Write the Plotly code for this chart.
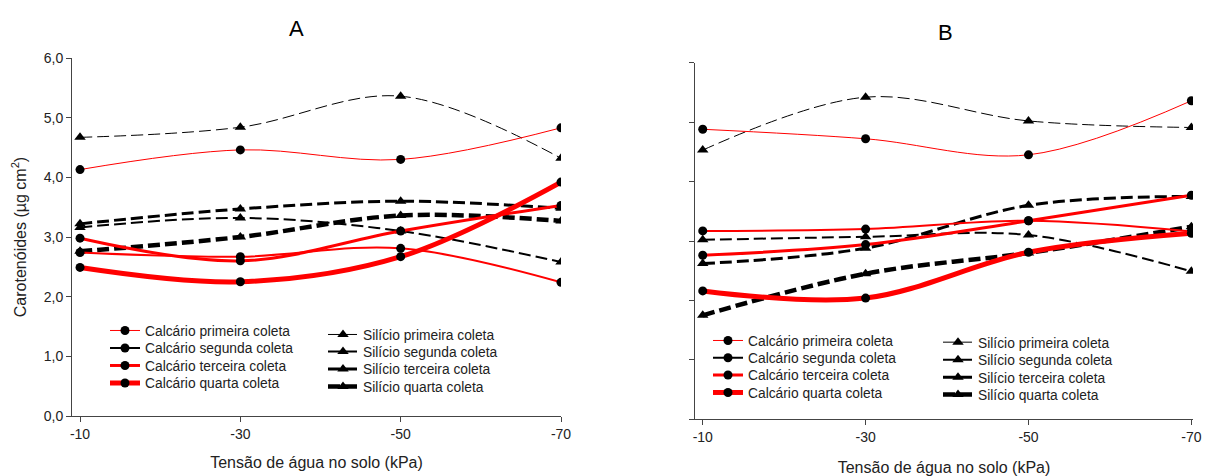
import plotly.graph_objects as go

# ---------------- data ----------------
tensao = [-10, -30, -50, -70]
tensao_labels = ["-10", "-30", "-50", "-70"]
y_ticks = [0, 1, 2, 3, 4, 5, 6]
y_ticklabels = ["0,0", "1,0", "2,0", "3,0", "4,0", "5,0", "6,0"]

series_names = ["primeira", "segunda", "terceira", "quarta"]

# Panel A
A_calc_primeira = [4.13, 4.46, 4.30, 4.83]
A_calc_segunda = [2.74, 2.67, 2.81, 2.24]
A_calc_terceira = [2.98, 2.60, 3.10, 3.53]
A_calc_quarta = [2.49, 2.25, 2.67, 3.92]
A_sil_primeira = [4.67, 4.84, 5.36, 4.32]
A_sil_segunda = [3.16, 3.32, 3.10, 2.58]
A_sil_terceira = [3.22, 3.47, 3.60, 3.48]
A_sil_quarta = [2.76, 3.00, 3.36, 3.27]

# Panel B
B_calc_primeira = [4.88, 4.72, 4.45, 5.36]
B_calc_segunda = [3.17, 3.20, 3.34, 3.16]
B_calc_terceira = [2.76, 2.94, 3.34, 3.77]
B_calc_quarta = [2.16, 2.04, 2.81, 3.13]
B_sil_primeira = [4.53, 5.42, 5.02, 4.91]
B_sil_segunda = [3.02, 3.07, 3.10, 2.49]
B_sil_terceira = [2.62, 2.88, 3.60, 3.75]
B_sil_quarta = [1.75, 2.45, 2.80, 3.24]

# ---------------- styles / layout ----------------
FONT = "Arial, Liberation Sans, sans-serif"
RED = "#FF0000"
calc_widths = [1, 2, 3, 5]
calc_legend_colors = [RED, "black", RED, RED]
sil_widths = [1, 2, 3, 4.5]
DASH = "12px,5px"
W, H = 1206, 476
LEG_FONT = 13.8

# legend entry positions (pixels): left of sample, row centre
A_calc_leg = (110, [330, 347.5, 365, 382.5])
A_sil_leg = (328, [334, 351, 368.5, 386])
B_calc_leg = (713, [340, 357.3, 374.5, 392])
B_sil_leg = (943, [341.7, 359.3, 376.7, 394])

fig = go.Figure()
legend_layout = {}
leg_counter = [0]


def new_legend(px_x, px_y):
    leg_counter[0] += 1
    n = leg_counter[0]
    lid = "legend" if n == 1 else f"legend{n}"
    legend_layout[lid] = dict(
        x=(px_x - 5) / W, y=(H - (px_y - 15)) / H, xanchor="left", yanchor="top",
        bgcolor="rgba(0,0,0,0)", font=dict(family=FONT, size=LEG_FONT, color="#222"),
        itemclick=False, itemdoubleclick=False)
    return lid


def add_panel(calc, sil, xa, ya, calc_leg, sil_leg):
    # Silício (triangles, dashed black)
    for i, (name, vals, w) in enumerate(zip(series_names, sil, sil_widths)):
        lid = new_legend(sil_leg[0], sil_leg[1][i])
        fig.add_trace(go.Scatter(
            x=tensao, y=vals, xaxis=xa, yaxis=ya,
            mode="lines+markers", line=dict(color="black", width=w, dash=DASH, shape="spline"),
            marker=dict(symbol="triangle-up", size=10, color="black"),
            name=f"Silício {name} coleta", legend=lid, showlegend=True,
        ))
    # Calcário (circles, red)
    for i, (name, vals, w) in enumerate(zip(series_names, calc, calc_widths)):
        lid = new_legend(calc_leg[0], calc_leg[1][i])
        same = calc_legend_colors[i] == RED
        fig.add_trace(go.Scatter(
            x=tensao, y=vals, xaxis=xa, yaxis=ya,
            mode="lines+markers", line=dict(color=RED, width=w, shape="spline"),
            marker=dict(symbol="circle", size=9, color="black"),
            name=f"Calcário {name} coleta", legend=lid, showlegend=same,
        ))
        if not same:
            fig.add_trace(go.Scatter(
                x=[None], y=[None], xaxis=xa, yaxis=ya,
                mode="lines+markers", line=dict(color=calc_legend_colors[i], width=w),
                marker=dict(symbol="circle", size=9, color="black"),
                name=f"Calcário {name} coleta", legend=lid, showlegend=True,
            ))


add_panel([A_calc_primeira, A_calc_segunda, A_calc_terceira, A_calc_quarta],
          [A_sil_primeira, A_sil_segunda, A_sil_terceira, A_sil_quarta],
          "x", "y", A_calc_leg, A_sil_leg)
add_panel([B_calc_primeira, B_calc_segunda, B_calc_terceira, B_calc_quarta],
          [B_sil_primeira, B_sil_segunda, B_sil_terceira, B_sil_quarta],
          "x2", "y2", B_calc_leg, B_sil_leg)

axis_common = dict(showline=True, linecolor="#444", linewidth=1, ticks="outside",
                   ticklen=5, tickcolor="#444", showgrid=False, zeroline=False,
                   automargin=False,
                   tickfont=dict(family=FONT, size=14, color="#222"))

xtitle = dict(text="Tensão de água no solo (kPa)", font=dict(family=FONT, size=16, color="#222"),
              standoff=16)

fig.update_layout(
    template="none",
    width=W, height=H,
    margin=dict(l=0, r=0, t=0, b=0),
    plot_bgcolor="white", paper_bgcolor="white",
    font=dict(family=FONT, color="#222"),
    xaxis=dict(domain=[72 / W, 561 / W], range=[-9.0, -70], tickvals=tensao, ticktext=tensao_labels,
               anchor="y", title=xtitle, **axis_common),
    yaxis=dict(domain=[(H - 416) / H, (H - 58) / H], range=[0, 6], tickvals=y_ticks,
               ticktext=y_ticklabels, anchor="x",
               title=dict(text="Carotenóides (µg cm<sup>2</sup>)", font=dict(family=FONT, size=16, color="#222"),
                          standoff=13),
               **axis_common),
    xaxis2=dict(domain=[695 / W, 1193 / W], range=[-9.05, -70.2], tickvals=tensao, ticktext=tensao_labels,
                anchor="y2", title=dict(xtitle, standoff=19), **axis_common),
    yaxis2=dict(domain=[(H - 419.3) / H, (H - 62.7) / H], range=[0, 6], tickvals=y_ticks,
                showticklabels=False, anchor="x2", **axis_common),
    annotations=[
        dict(text="A", x=296 / W, y=(H - 28) / H, xref="paper", yref="paper", showarrow=False,
             font=dict(family=FONT, size=22, color="black"), xanchor="center", yanchor="middle"),
        dict(text="B", x=945 / W, y=(H - 33) / H, xref="paper", yref="paper", showarrow=False,
             font=dict(family=FONT, size=22, color="black"), xanchor="center", yanchor="middle"),
    ],
    showlegend=True,
    **legend_layout,
)

fig.write_html("out.html", config={"displayModeBar": False},
               post_script="document.body.style.margin='0';")
